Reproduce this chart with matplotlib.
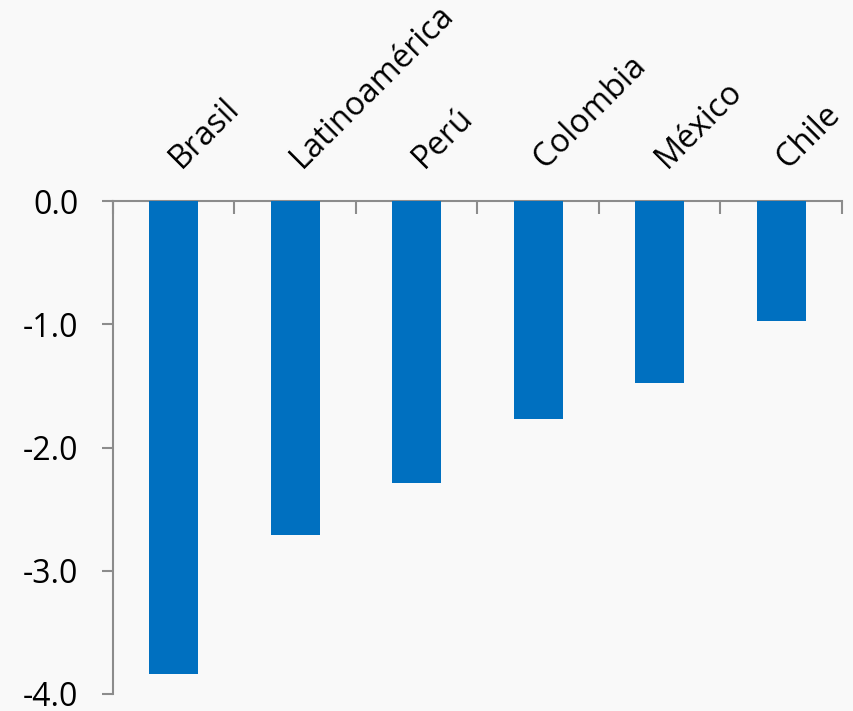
import matplotlib.pyplot as plt
import matplotlib.transforms as mtransforms
import numpy as np

paises = ["Brasil", "Latinoamérica", "Perú", "Colombia", "México", "Chile"]
valores = [-3.84, -2.71, -2.29, -1.77, -1.48, -0.97]
y_ticks = [0.0, -1.0, -2.0, -3.0, -4.0]

FONDO = "#F9F9F9"
AZUL = "#0070C0"
GRIS = "#8C8C8C"

plt.rcParams["font.family"] = ["Open Sans", "DejaVu Sans"]

fig = plt.figure(figsize=(8.54, 7.11), dpi=100, facecolor=FONDO)
ax = fig.add_axes([113 / 854, 1 - 694 / 711, (842 - 113) / 854, (694 - 201) / 711])
ax.set_facecolor(FONDO)

x = np.arange(len(paises))
ax.bar(x, valores, width=0.4, color=AZUL, zorder=3)

ax.set_xlim(-0.5, len(paises) - 0.5)
ax.set_ylim(-4.0, 0.0)
ax.set_yticks(y_ticks)
ax.set_yticklabels([f"{v:.1f}" for v in y_ticks], fontsize=23)

# marcas entre categorías, arriba
ax.xaxis.tick_top()
ax.set_xticks([])
ax.set_xticks(np.arange(-0.5, len(paises)), minor=True)
ax.tick_params(axis="x", which="minor", direction="in", length=9, width=1.5, color=GRIS)
ax.tick_params(axis="y", direction="out", length=8, width=1.5, color=GRIS, pad=17)

# nombres de países en diagonal sobre el eje
trans = ax.get_xaxis_transform() + mtransforms.ScaledTranslation(5 / 72, 23 / 72, fig.dpi_scale_trans)
for xi, nombre in zip(x, paises):
    ax.text(xi, 1.0, nombre, transform=trans, fontsize=23.5, rotation=45,
            ha="left", va="baseline", rotation_mode="anchor", clip_on=False)

for lado in ["right", "bottom"]:
    ax.spines[lado].set_visible(False)
for lado in ["left", "top"]:
    ax.spines[lado].set_color(GRIS)
    ax.spines[lado].set_linewidth(1.5)

fig.savefig("out.png", dpi=100, facecolor=FONDO)
